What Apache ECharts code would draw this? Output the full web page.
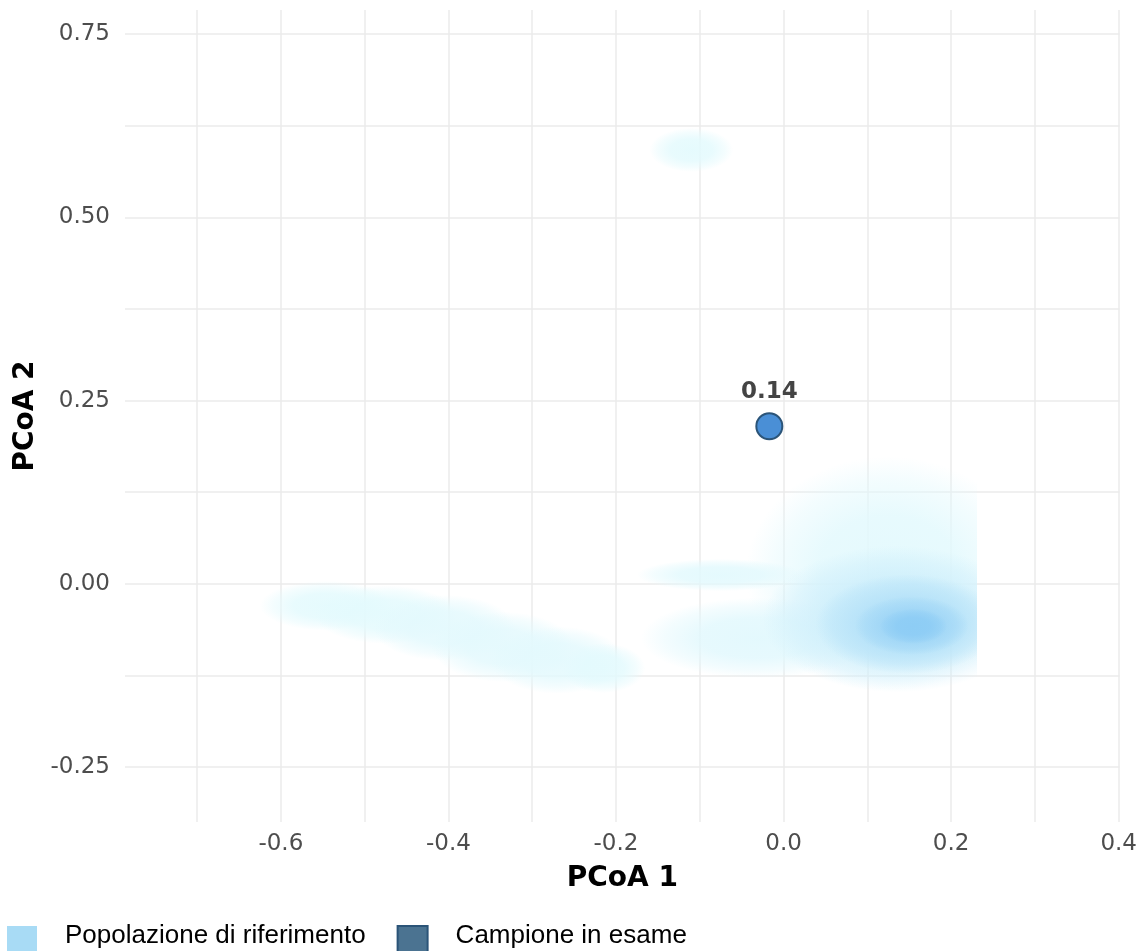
<!DOCTYPE html>
<html>
<head>
<meta charset="utf-8">
<style>
  html, body { margin: 0; padding: 0; background: #ffffff; }
  #chart { width: 1140px; height: 951px; }
</style>
<script src="https://cdn.jsdelivr.net/npm/echarts@6/dist/echarts.min.js"></script>
</head>
<body>
<div id="chart"></div>
<script>
// Axis ranges and tick positions (PCoA coordinates)
const xRange = [-0.786, 0.401];
const yRange = [-0.325, 0.783];
const xGridTicks = [-0.7, -0.6, -0.5, -0.4, -0.3, -0.2, -0.1, 0.0, 0.1, 0.2, 0.3, 0.4];
const xLabelTicks = [-0.6, -0.4, -0.2, 0.0, 0.2, 0.4];
const yGridTicks = [-0.25, -0.125, 0.0, 0.125, 0.25, 0.375, 0.5, 0.625, 0.75];
const yLabelTicks = [-0.25, 0.0, 0.25, 0.5, 0.75];

// Reference population density, described as overlapping kernels:
// centre (x, y), half-widths (rx, ry) and relative density level 0..1
const densX     = [-0.545, -0.475, -0.405, -0.335, -0.270, -0.215, -0.110,  0.125, -0.030, -0.075,  0.135,  0.148,  0.153,  0.155];
const densY     = [-0.030, -0.042, -0.060, -0.086, -0.104, -0.115,  0.592,  0.014, -0.074,  0.012, -0.048, -0.055, -0.057, -0.058];
const densRX    = [ 0.080,  0.085,  0.085,  0.085,  0.080,  0.050,  0.050,  0.170,  0.140,  0.100,  0.160,  0.110,  0.068,  0.040];
const densRY    = [ 0.034,  0.040,  0.045,  0.048,  0.046,  0.034,  0.030,  0.160,  0.055,  0.022,  0.100,  0.068,  0.040,  0.024];
const densLevel = [ 0.03,   0.03,   0.035,  0.035,  0.035,  0.03,   0.03,   0.05,   0.06,   0.04,   0.30,   0.58,   0.82,   1.00];
const densXMax = 0.231;   // right limit of the estimated density grid

// Sample under examination
const sampleX = [-0.017];
const sampleY = [0.215];
const sampleScore = [0.14];

const seriesNames = ['Popolazione di riferimento', 'Campione in esame'];

const densityData = densX.map((x, i) => [x, densY[i], densRX[i], densRY[i], densLevel[i]]);
const sampleData = sampleX.map((x, i) => [x, sampleY[i], sampleScore[i]]);

const lowColor = [230, 251, 253];
const highColor = [140, 204, 245];
function levelColor(t, a) {
  const c = lowColor.map((v, k) => Math.round(v + (highColor[k] - v) * t));
  return 'rgba(' + c[0] + ',' + c[1] + ',' + c[2] + ',' + a + ')';
}

function renderDensity(params, api) {
  const c = api.coord([api.value(0), api.value(1)]);
  const s = api.size([api.value(2), api.value(3)]);
  const lvl = api.value(4);
  const rx = s[0], ry = s[1];
  const cs = params.coordSys;
  const clipRight = api.coord([densXMax, 0])[0];
  return {
    type: 'group',
    clipPath: {
      type: 'rect',
      shape: { x: cs.x, y: cs.y, width: clipRight - cs.x, height: cs.height }
    },
    children: [{
      type: 'circle',
      x: c[0],
      y: c[1],
      scaleY: ry / rx,
      shape: { cx: 0, cy: 0, r: rx },
      style: {
        fill: {
          type: 'radial', x: 0.5, y: 0.5, r: 0.5,
          colorStops: [
            { offset: 0, color: levelColor(lvl, 0.92) },
            { offset: 0.5, color: levelColor(lvl, 0.82) },
            { offset: 0.8, color: levelColor(lvl, 0.4) },
            { offset: 1, color: levelColor(lvl, 0) }
          ]
        }
      }
    }]
  };
}

const gridLine = { show: true, lineStyle: { color: '#ebebeb', width: 1.5 } };
const tickFont = { fontFamily: 'DejaVu Sans', fontSize: 23, color: '#4d4d4d' };
const titleFont = { fontFamily: 'DejaVu Sans', fontWeight: 'bold', fontSize: 28, color: '#000000' };

const chart = echarts.init(document.getElementById('chart'), null, { renderer: 'canvas' });
chart.setOption({
  backgroundColor: '#ffffff',
  animation: false,
  grid: { left: 125, right: 19, top: 10, bottom: 129 },
  xAxis: {
    type: 'value',
    min: xRange[0],
    max: xRange[1],
    axisLine: { show: false },
    axisTick: { show: false, customValues: xGridTicks },
    splitLine: gridLine,
    axisLabel: Object.assign({
      customValues: xLabelTicks,
      margin: 11,
      formatter: v => v.toFixed(1)
    }, tickFont),
    name: 'PCoA 1',
    nameLocation: 'middle',
    nameGap: 43,
    nameTextStyle: titleFont
  },
  yAxis: {
    type: 'value',
    min: yRange[0],
    max: yRange[1],
    axisLine: { show: false },
    axisTick: { show: false, customValues: yGridTicks },
    splitLine: gridLine,
    axisLabel: Object.assign({
      customValues: yLabelTicks,
      margin: 15,
      formatter: v => v.toFixed(2)
    }, tickFont),
    name: 'PCoA 2',
    nameLocation: 'middle',
    nameGap: 76,
    nameRotate: 90,
    nameTextStyle: titleFont
  },
  legend: {
    left: 7,
    top: 923,
    padding: 0,
    itemWidth: 30,
    itemHeight: 36,
    itemGap: 31,
    icon: 'rect',
    // the keys run off the bottom edge; the label sits on the upper part of the key
    formatter: name => name + '\n ',
    textStyle: {
      fontFamily: 'Liberation Sans',
      fontSize: 26,
      lineHeight: 16,
      color: '#000000',
      padding: [0, 0, 0, 23]
    },
    data: [
      { name: seriesNames[0], itemStyle: { color: '#a8dbf5', opacity: 1 } },
      { name: seriesNames[1], itemStyle: { color: '#4b7391', opacity: 1 } }
    ]
  },
  series: [
    {
      name: seriesNames[0],
      type: 'custom',
      renderItem: renderDensity,
      data: densityData,
      itemStyle: { color: '#a8dbf5' },
      silent: true,
      z: 1
    },
    {
      name: seriesNames[1],
      type: 'scatter',
      data: sampleData,
      symbolSize: 26,
      itemStyle: { color: '#4a8fd6', borderColor: '#2b5478', borderWidth: 2, opacity: 1 },
      label: {
        show: true,
        position: 'top',
        distance: 9,
        formatter: p => p.value[2].toFixed(2),
        fontFamily: 'DejaVu Sans',
        fontWeight: 'bold',
        fontSize: 23,
        color: '#444444'
      },
      z: 3
    }
  ]
});
</script>
</body>
</html>
